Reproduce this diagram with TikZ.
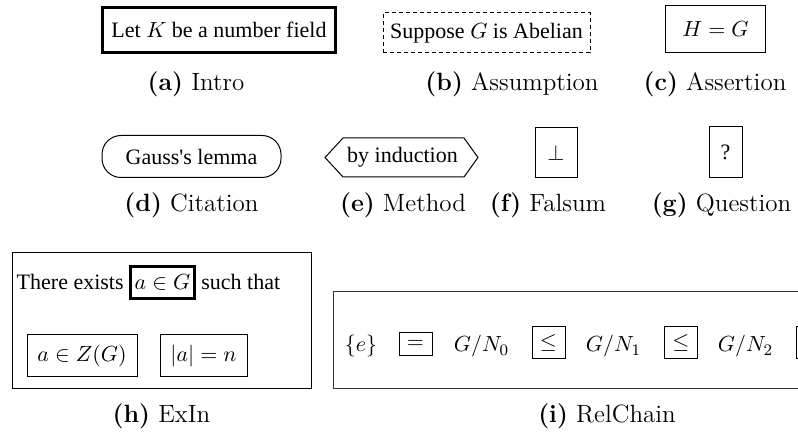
\documentclass[tikz,border=0pt]{standalone}
\usepackage{fontspec}
\newfontfamily\tms{Liberation Serif}
\begin{document}
\begin{tikzpicture}[x=0.5pt,y=-0.5pt,
  bt/.style={font=\tms\fontsize{11}{13}\selectfont, inner sep=0pt},
  bx/.style={bt, draw, line width=0.5pt},
  thk/.style={bt, draw, line width=1.7pt},
  captxt/.style={font=\fontsize{12.5}{15}\selectfont, inner sep=0pt}]
\useasboundingbox (0,0) rectangle (798,432);

% (a) Intro
\node[thk, minimum width=116.25pt, minimum height=22.25pt] (a) at (219,30) {Let $K$ be a number field};
\node[captxt] (ca) at (196,84) {\textbf{(a)} Intro};
% (b) Assumption
\node[bx, dash pattern=on 2pt off 1.5pt, minimum width=103.5pt, minimum height=20pt] (b) at (486.5,33) {Suppose $G$ is Abelian};
\node[captxt] (cb) at (512,84) {\textbf{(b)} Assumption};
% (c) Assertion
\node[bx, minimum width=50pt, minimum height=23.5pt] (c) at (715.5,29.5) {$H=G$};
\node[captxt] (cc) at (715,84) {\textbf{(c)} Assertion};

% (d) Citation
\node[bx, rounded corners=9.5pt, minimum width=89.5pt, minimum height=21pt] (d) at (191.5,156.5) {Gauss\textquotesingle s lemma};
\node[captxt] (cd) at (191.5,205) {\textbf{(d)} Citation};
% (e) Method
\node[bt] (e) at (402.5,157.5) {by induction};
\draw[line width=0.5pt] (325,157.5) -- (343,138) -- (464,138) -- (478,157.5) -- (464,177) -- (343,177) -- cycle;
\node[captxt] (ce) at (403,205) {\textbf{(e)} Method};
% (f) Falsum
\node[bx, minimum width=21pt, minimum height=25pt] (f) at (556,153) {$\perp$};
\node[captxt] (cf) at (548,205) {\textbf{(f)} Falsum};
% (g) Question
\node[bx, minimum width=16.5pt, minimum height=25.5pt] (g) at (725.5,152.5) {?};
\node[captxt] (cg) at (721.5,205) {\textbf{(g)} Question};

% (h) ExIn
\node[bx, minimum width=149.5pt, minimum height=68pt] (h) at (161.5,321) {};
\node[thk, minimum width=31.75pt, minimum height=15.75pt] (aG) at (162.5,282.5) {$a\in G$};
\node[bt, anchor=base east] (tex) at ([xshift=-2.5pt]aG.base west) {There exists};
\node[bt, anchor=base west] (st) at ([xshift=2.5pt]aG.base east) {such that};
\node[bx, minimum width=55pt, minimum height=21pt] (zg) at (82,356) {$a\in Z(G)$};
\node[bx, minimum width=43.5pt, minimum height=21pt] (an) at (203.5,356) {$|a|=n$};
\node[captxt] (ch) at (161.5,416) {\textbf{(h)} ExIn};

% (i) RelChain
\begin{scope}
\clip (0,0) rectangle (798,432);
\draw[line width=0.5pt, black!80] (850,292) -- (333,292) -- (333,389) -- (850,389);
\node[bx, minimum width=16.5pt, minimum height=16pt] (r3) at (812.5,343) {};
\end{scope}
\node[bt, anchor=base] (e0) at (361,352) {$\{e\}$};
\node[bx, minimum width=16.5pt, minimum height=11.5pt] (r0) at (415.5,344.5) {$=$};
\node[bt, anchor=base] (n0) at (481.5,352) {$G/N_0$};
\node[bx, minimum width=16.5pt, minimum height=16pt] (r1) at (548.5,343) {$\leq$};
\node[bt, anchor=base] (n1) at (613.5,352) {$G/N_1$};
\node[bx, minimum width=16.5pt, minimum height=16pt] (r2) at (681,343) {$\leq$};
\node[bt, anchor=base] (n2) at (745.5,352) {$G/N_2$};
\node[captxt] (ci) at (607,416) {\textbf{(i)} RelChain};
\end{tikzpicture}
\end{document}
